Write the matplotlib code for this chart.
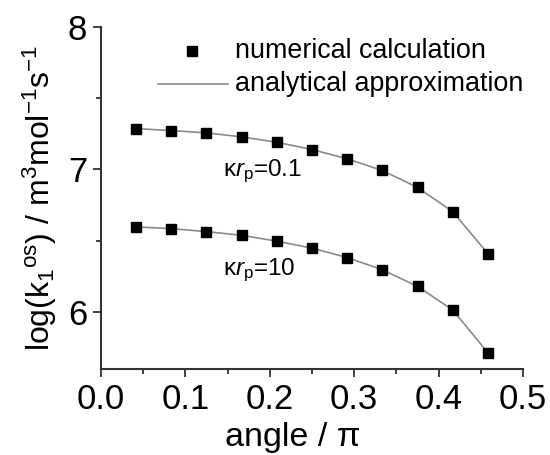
import matplotlib
matplotlib.use("Agg")
import matplotlib.pyplot as plt
import numpy as np

plt.rcParams['font.family'] = ['Liberation Sans', 'DejaVu Sans']
plt.rcParams['mathtext.fontset'] = 'custom'
plt.rcParams['mathtext.rm'] = 'Liberation Sans'
plt.rcParams['mathtext.it'] = 'Liberation Sans:italic'
plt.rcParams['mathtext.bf'] = 'Liberation Sans:bold'

angle = [0.0417, 0.0833, 0.125, 0.1667, 0.2083, 0.25, 0.2917, 0.3333, 0.375, 0.4167, 0.4583]
logk_01 = [7.287, 7.273, 7.257, 7.229, 7.191, 7.140, 7.075, 6.993, 6.874, 6.704, 6.41]
logk_10 = [6.597, 6.585, 6.564, 6.538, 6.497, 6.448, 6.382, 6.296, 6.18, 6.014, 5.715]
xticks = [0.0, 0.1, 0.2, 0.3, 0.4, 0.5]
yticks = [6, 7, 8]

fig = plt.figure(figsize=(5.5, 4.55), dpi=100)
ax = fig.add_axes([0.1836, 0.189, 0.951 - 0.1836, 0.9407 - 0.189])

line_col = '#8a8a8a'
for ys in (logk_01, logk_10):
    ax.plot(angle, ys, '-', color=line_col, lw=1.2, zorder=2)
    ax.plot(angle, ys, 's', color='black', ms=7.2, lw=0, zorder=3)

ax.set_xlim(0, 0.5)
ax.set_ylim(5.6, 8)
ax.set_xticks(xticks)
ax.set_xticklabels([f'{v:.1f}' for v in xticks])
ax.set_yticks(yticks)
ax.set_xticks(np.arange(0.05, 0.5, 0.1), minor=True)
ax.set_yticks([6.5, 7.5], minor=True)

for s in ('top', 'right'):
    ax.spines[s].set_visible(False)
for s in ('left', 'bottom'):
    ax.spines[s].set_color('#333333')
    ax.spines[s].set_linewidth(1.5)
ax.tick_params(which='major', length=6, width=1.3, color='#333333', labelsize=25, pad=4)
ax.tick_params(which='minor', length=3.5, width=1.3, color='#333333')

ax.set_xlabel('angle / π', fontsize=24.5)
ax.xaxis.set_label_coords(0.455, -0.155, transform=ax.transAxes)
ax.xaxis.label.set_va('top')
ax.set_ylabel(r'log(k$_1$$^{\mathrm{os}}$) / m$^3$mol$^{-1}$s$^{-1}$', fontsize=23, labelpad=6)

ax.text(0.144, 6.99, r'κ$r_\mathrm{p}$=0.1', fontsize=17.5, va='center', ha='left')
ax.text(0.144, 6.29, r'κ$r_\mathrm{p}$=10', fontsize=17.5, va='center', ha='left')

# legend (manual)
ax.plot([0.108], [7.83], 's', color='black', ms=7.2, clip_on=False)
ax.plot([0.067, 0.15], [7.6, 7.6], '-', color=line_col, lw=1.2, clip_on=False)
ax.text(0.159, 7.83, 'numerical calculation', fontsize=19.4, va='center', ha='left')
ax.text(0.159, 7.6, 'analytical approximation', fontsize=19.4, va='center', ha='left')

fig.savefig('out.png', dpi=100)
